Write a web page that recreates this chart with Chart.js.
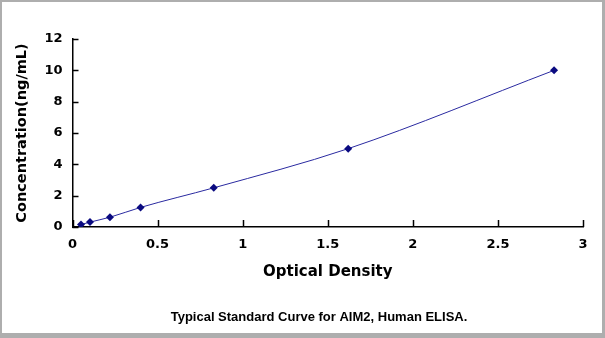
<!DOCTYPE html>
<html>
<head>
<meta charset="utf-8">
<script src="https://cdn.jsdelivr.net/npm/chart.js@4.4.0/dist/chart.umd.min.js"></script>
<style>
  html, body { margin: 0; padding: 0; background: #aeaeae; }
  #frame { position: absolute; left: 2px; top: 2px; width: 600px; height: 331px; background: #fff; }
</style>
</head>
<body>
<div id="frame"><canvas id="chart" width="600" height="331"></canvas></div>
<script>
// standard curve points
const odValues = [0.05, 0.103, 0.22, 0.40, 0.83, 1.62, 2.83];
const concValues = [0.156, 0.312, 0.625, 1.25, 2.5, 5, 10];
const xTickLabels = ["0", "0.5", "1", "1.5", "2", "2.5", "3"];
const yTickLabels = ["0", "2", "4", "6", "8", "10", "12"];

const caption = "Typical Standard Curve for AIM2, Human ELISA.";
const wideFont = "'DejaVu Sans', sans-serif";
const captionFont = "'Liberation Sans', Arial, sans-serif";

// ticks in the original point inward, so draw them by hand from the scales
const innerTicks = {
  id: "innerTicks",
  afterDraw(chart) {
    const ctx = chart.ctx;
    const xs = chart.scales.x, ys = chart.scales.y;
    const area = chart.chartArea;
    ctx.save();
    ctx.strokeStyle = "#000";
    ctx.lineWidth = 1.5;
    xs.ticks.forEach((t) => {
      const px = Math.round(xs.getPixelForValue(t.value)) + 0.5;
      ctx.beginPath();
      ctx.moveTo(px, area.bottom);
      ctx.lineTo(px, area.bottom - 7);
      ctx.stroke();
    });
    ys.ticks.forEach((t) => {
      const py = Math.round(ys.getPixelForValue(t.value)) + 0.5;
      ctx.beginPath();
      ctx.moveTo(area.left, py);
      ctx.lineTo(area.left + 6, py);
      ctx.stroke();
    });
    // caption under the chart
    ctx.fillStyle = "#000";
    ctx.font = "bold 13px " + captionFont;
    ctx.textAlign = "center";
    ctx.textBaseline = "middle";
    ctx.fillText(caption, chart.width / 2 + 17, 315);
    ctx.restore();
  },
};

const ctx = document.getElementById("chart").getContext("2d");
new Chart(ctx, {
  type: "scatter",
  data: {
    datasets: [
      {
        data: odValues.map((v, i) => ({ x: v, y: concValues[i] })),
        showLine: true,
        borderColor: "#2a2aa0",
        borderWidth: 1,
        tension: 0.3,
        cubicInterpolationMode: "monotone",
        pointStyle: "rectRot",
        pointRadius: 4,
        pointBackgroundColor: "#0a0a80",
        pointBorderColor: "#0a0a80",
        pointBorderWidth: 0,
      },
    ],
  },
  options: {
    responsive: false,
    animation: false,
    layout: {
      padding: { left: 0, right: 19, top: 37, bottom: 52 },
    },
    plugins: {
      legend: { display: false },
      tooltip: { enabled: false },
    },
    scales: {
      x: {
        type: "linear",
        min: 0,
        max: 3,
        afterBuildTicks(scale) {
          scale.ticks = xTickLabels.map((l) => ({ value: parseFloat(l) }));
        },
        afterFit(scale) {
          scale.height = 54;
        },
        grid: { display: false, drawTicks: false },
        border: { display: true, color: "#000", width: 1.5 },
        ticks: {
          padding: 10,
          color: "#000",
          font: { family: wideFont, size: 13, weight: "bold" },
          maxRotation: 0,
          callback: (v) => String(v),
        },
        title: {
          display: true,
          text: "Optical Density",
          color: "#000",
          font: { family: wideFont, size: 15, weight: "bold" },
          padding: { top: 6, bottom: 0 },
        },
      },
      y: {
        type: "linear",
        min: 0,
        max: 12,
        afterBuildTicks(scale) {
          scale.ticks = yTickLabels.map((l) => ({ value: parseFloat(l) }));
        },
        afterFit(scale) {
          scale.width = 70.5;
        },
        grid: { display: false, drawTicks: false },
        border: { display: true, color: "#000", width: 1.5 },
        ticks: {
          padding: 10,
          color: "#000",
          font: { family: wideFont, size: 13, weight: "bold" },
          callback: (v) => String(v),
        },
        title: {
          display: true,
          text: "Concentration(ng/mL)",
          color: "#000",
          font: { family: wideFont, size: 14.5, weight: "bold" },
          padding: { top: 12, bottom: 0 },
        },
      },
    },
  },
  plugins: [innerTicks],
});
</script>
</body>
</html>
